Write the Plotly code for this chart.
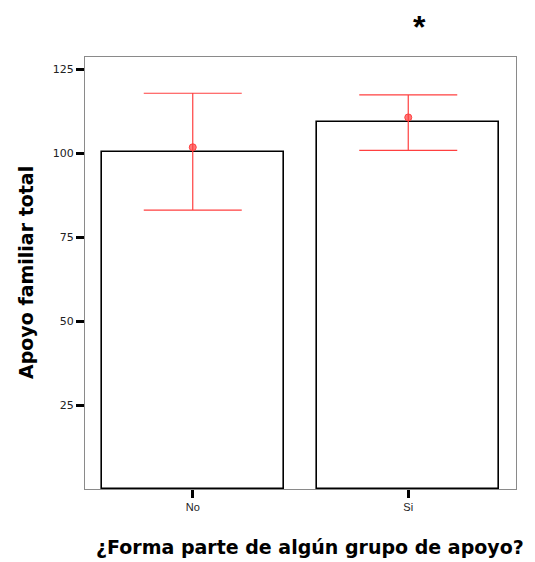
import plotly.graph_objects as go

categories = ["No", "Si"]
bar_values = [100.4, 109.4]
means = [101.8, 110.7]
upper = [117.9, 117.4]
lower = [83.1, 100.9]
y_tickvals = [25, 50, 75, 100, 125]

err_plus = [u - m for u, m in zip(upper, means)]
err_minus = [m - l for m, l in zip(means, lower)]

FONT = "Liberation Sans, Arial, sans-serif"
TITLE_FONT = "DejaVu Sans, sans-serif"
RED = "#ff4040"

fig = go.Figure()
fig.add_trace(go.Bar(
    x=categories, y=bar_values, width=0.845,
    marker=dict(color="white", line=dict(color="black", width=1.6)),
    showlegend=False, hoverinfo="skip"))
fig.add_trace(go.Scatter(
    x=categories, y=means, mode="markers",
    marker=dict(symbol="circle", size=7, color="rgba(255,64,64,0.7)",
                line=dict(color=RED, width=1)),
    error_y=dict(type="data", symmetric=False, array=err_plus, arrayminus=err_minus,
                 color=RED, thickness=1.2, width=49),
    showlegend=False))

# page body has an 8px margin, compensate so the plot frame lands at 85..516 x 57..489
fig.update_layout(
    width=527, height=554,
    margin=dict(l=77, r=19, t=49, b=73),
    paper_bgcolor="white", plot_bgcolor="white",
    font=dict(family=FONT, color="black"),
    bargap=0,
    xaxis=dict(type="category", range=[-0.5, 1.5], showgrid=False, zeroline=False,
               showline=True, linecolor="#8a8a8a", linewidth=1.2, mirror=True,
               ticks="outside", ticklen=8, tickwidth=3, tickcolor="black",
               tickfont=dict(size=11, family=FONT, color="#222")),
    yaxis=dict(range=[0, 128.7], showgrid=False, zeroline=False,
               showline=True, linecolor="#8a8a8a", linewidth=1.2, mirror=True,
               tickvals=y_tickvals,
               ticks="outside", ticklen=8, tickwidth=3, tickcolor="black",
               tickfont=dict(size=11, family=TITLE_FONT, color="#222")),
    annotations=[
        dict(text="<b>Apoyo familiar total</b>", xref="paper", yref="paper",
             x=0, xshift=-59, y=0.5, xanchor="center", yanchor="middle", textangle=-90,
             showarrow=False, font=dict(size=19, family=TITLE_FONT, color="black")),
        dict(text="<b>¿Forma parte de algún grupo de apoyo?</b>", xref="paper", yref="paper",
             x=0.522, y=0, yshift=-58, xanchor="center", yanchor="middle",
             showarrow=False, font=dict(size=19, family=TITLE_FONT, color="black")),
        dict(text="<b>*</b>", xref="paper", yref="paper",
             x=0.775, y=1, yshift=30, xanchor="center", yanchor="middle",
             showarrow=False, font=dict(size=32, family=FONT, color="black")),
    ],
)

fig.write_html("out.html")
